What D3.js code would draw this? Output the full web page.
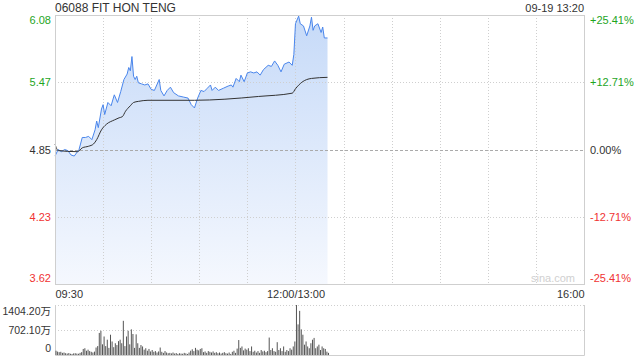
<!DOCTYPE html>
<html>
<head>
<meta charset="utf-8">
<script src="https://cdn.jsdelivr.net/npm/d3@7"></script>
<style>
  body { margin: 0; background: #fff; }
  text { font-family: "Liberation Sans", Arial, "Noto Sans CJK SC", sans-serif; }
</style>
</head>
<body>
<div class="canvas"></div>
<script>
// ---- data ----
const title = '06088 FIT HON TENG';
const stamp = '09-19 13:20';

const priceTicks = [3.62, 4.23, 4.85, 5.47, 6.08];
const pctTicks = ['-25.41%', '-12.71%', '0.00%', '+12.71%', '+25.41%'];
const timeTicks = ['09:30', '12:00/13:00', '16:00'];
const volTicks = [0, 702.10, 1404.20];

const priceTimes = ['09:30','09:32','09:34','09:36','09:38','09:40','09:42','09:45','09:47','09:49',
  '09:51','09:53','09:55','09:56','09:57','09:59','10:00','10:01','10:03','10:05',
  '10:07','10:09','10:11','10:13','10:15','10:16','10:17','10:18','10:19','10:20',
  '10:21','10:22','10:24','10:26','10:28','10:30','10:32','10:35','10:36','10:38',
  '10:40','10:42','10:44','10:47','10:50','10:53','10:55','10:57','10:59','11:01',
  '11:03','11:05','11:07','11:08','11:10','11:12','11:15','11:18','11:20','11:21',
  '11:23','11:25','11:26','11:28','11:30','11:32','11:34','11:36','11:38','11:40',
  '11:43','11:45','11:47','11:49','11:51','11:53','11:56','11:58','11:59','13:00',
  '13:02','13:03','13:05','13:07','13:09','13:10','13:11','13:12','13:14','13:16',
  '13:17','13:18','13:20'];
const priceValues = [4.79,4.85,4.83,4.85,4.84,4.80,4.79,4.85,4.96,4.96,
  4.97,4.94,5.03,5.11,5.05,5.22,5.26,5.17,5.28,5.25,
  5.35,5.28,5.38,5.49,5.54,5.60,5.57,5.70,5.52,5.49,
  5.52,5.46,5.45,5.44,5.45,5.40,5.39,5.49,5.39,5.34,
  5.39,5.42,5.37,5.34,5.33,5.32,5.26,5.23,5.32,5.39,
  5.38,5.41,5.44,5.39,5.42,5.39,5.41,5.43,5.44,5.42,
  5.50,5.47,5.53,5.47,5.55,5.56,5.55,5.56,5.53,5.58,
  5.62,5.61,5.66,5.62,5.56,5.63,5.65,5.62,5.72,6.00,
  6.07,6.00,5.98,5.89,5.98,6.06,5.94,5.98,6.00,5.92,
  5.97,5.87,5.87];

const avgTimes = ['09:30','09:32','09:44','09:47','09:51','09:54','09:56','09:59','10:02','10:07',
  '10:10','10:12','10:14','10:17','10:19','10:22','10:28','10:57','11:16','11:37',
  '11:58','13:00','13:04','13:10','13:20'];
const avgValues = [4.90,4.84,4.83,4.865,4.88,4.90,4.94,5.03,5.08,5.12,
  5.14,5.15,5.20,5.25,5.28,5.29,5.30,5.30,5.31,5.335,
  5.365,5.405,5.465,5.50,5.51];

// volume in 万, one bar per minute starting 09:30
const volumes = [120,95,80,90,60,70,50,40,55,35,
  30,45,50,40,35,60,80,170,190,120,
  150,110,90,70,95,210,250,620,680,300,
  520,250,430,200,570,380,220,330,280,390,
  430,330,960,250,520,680,300,720,590,200,
  580,330,200,280,240,150,190,120,170,100,
  140,90,110,70,100,210,90,60,110,70,
  50,60,45,70,40,55,30,50,40,35,
  60,45,30,70,120,160,110,200,150,130,
  170,190,80,100,60,110,90,70,100,60,
  80,50,70,40,60,80,50,40,70,30,
  90,120,60,180,420,200,240,130,180,150,
  190,110,240,90,120,70,110,60,140,100,
  120,80,110,490,140,190,110,90,360,140,
  190,110,240,90,140,110,190,150,240,380,
  1404.20,860,1240,720,570,290,380,240,190,330,
  430,480,190,240,290,140,240,190,170,95,60];

// ---- layout ----
const plotLeft = 55, plotRight = 584;
const plotTop = 15, plotBottom = 284;
const volTop = 305, volBottom = 355;

const green = '#1ea51e', red = '#f03333', dark = '#333';

const toMin = s => {
  const [h, m] = s.split(':').map(Number);
  const v = h * 60 + m;
  return v >= 780 ? v - 780 + 150 : v - 570;
};

const svg = d3.select('.canvas').append('svg')
  .attr('width', 640)
  .attr('height', 360);

const x = d3.scaleLinear().domain([0, 330]).range([plotLeft, plotRight]);
const y = d3.scaleLinear().domain([3.62, 6.08]).range([plotBottom, plotTop]);
const yv = d3.scaleLinear().domain([0, 1404.20]).range([volBottom, volTop]);

// gradient for area
const grad = svg.append('defs').append('linearGradient')
  .attr('id', 'fillGrad')
  .attr('x1', 0).attr('y1', 0).attr('x2', 0).attr('y2', 1);
grad.append('stop').attr('offset', '0%').attr('stop-color', '#c6daf8');
grad.append('stop').attr('offset', '100%').attr('stop-color', '#f5f8fe');

const pricePts = priceTimes.map((t, i) => ({ t: toMin(t), v: priceValues[i] }));
const avgPts = avgTimes.map((t, i) => ({ t: toMin(t), v: avgValues[i] }));

// area first, grid on top of it
svg.append('path')
  .datum(pricePts)
  .attr('fill', 'url(#fillGrad)')
  .attr('d', d3.area().x(d => x(d.t)).y0(plotBottom).y1(d => y(d.v)));

// vertical grid
svg.append('g').selectAll('line')
  .data(d3.range(30, 330, 30))
  .join('line')
    .attr('x1', d => Math.round(x(d)) + 0.5).attr('x2', d => Math.round(x(d)) + 0.5)
    .attr('y1', plotTop).attr('y2', plotBottom)
    .attr('stroke', '#cfcfcf')
    .attr('stroke-dasharray', '1,2');

// horizontal grid
svg.append('g').selectAll('line')
  .data(priceTicks.slice(1, -1))
  .join('line')
    .attr('x1', plotLeft).attr('x2', plotRight)
    .attr('y1', d => Math.round(y(d)) + 0.5).attr('y2', d => Math.round(y(d)) + 0.5)
    .attr('stroke', d => d === 4.85 ? '#aaa' : '#cfcfcf')
    .attr('stroke-dasharray', d => d === 4.85 ? '3,2' : '1,2');

svg.append('path')
  .datum(pricePts)
  .attr('fill', 'none')
  .attr('stroke', '#4a86ec')
  .attr('stroke-width', 1)
  .attr('d', d3.line().x(d => x(d.t)).y(d => y(d.v)));

svg.append('path')
  .datum(avgPts)
  .attr('fill', 'none')
  .attr('stroke', '#333')
  .attr('stroke-width', 1)
  .attr('d', d3.line().curve(d3.curveMonotoneX).x(d => x(d.t)).y(d => y(d.v)));

// frame
svg.append('rect')
  .attr('x', plotLeft + 0.5).attr('y', plotTop + 0.5)
  .attr('width', plotRight - plotLeft).attr('height', plotBottom - plotTop)
  .attr('fill', 'none')
  .attr('stroke', '#cfcfcf');

// watermark
svg.append('text')
  .attr('x', plotRight - 9).attr('y', plotBottom - 2)
  .attr('text-anchor', 'end')
  .attr('font-size', 11)
  .attr('fill', '#d0d0d0')
  .text('sina.com');

// left axis
const yAxisGroup = svg.append('g')
  .attr('transform', `translate(${plotLeft - 1},0)`)
  .call(d3.axisLeft(y).tickValues(priceTicks).tickSize(0).tickFormat(d3.format('.2f')));
yAxisGroup.select('.domain').remove();
yAxisGroup.selectAll('text')
  .attr('font-size', 11)
  .attr('fill', d => d > 4.85 ? green : d < 4.85 ? red : dark)
  .attr('dy', (d, i) => i === 0 ? '-0.2em' : i === priceTicks.length - 1 ? '0.75em' : '0.32em');

// right axis
const yAxisRight = svg.append('g')
  .attr('transform', `translate(${plotRight + 3},0)`)
  .call(d3.axisRight(y).tickValues(priceTicks).tickSize(0).tickFormat((d, i) => pctTicks[i]));
yAxisRight.select('.domain').remove();
yAxisRight.selectAll('text')
  .attr('font-size', 11)
  .attr('fill', d => d > 4.85 ? green : d < 4.85 ? red : dark)
  .attr('dy', (d, i) => i === 0 ? '-0.2em' : i === priceTicks.length - 1 ? '0.75em' : '0.32em');

// time axis
const xAxisGroup = svg.append('g')
  .attr('transform', `translate(0,${plotBottom})`)
  .call(d3.axisBottom(x).tickValues([0, 150, 330]).tickSize(0).tickFormat((d, i) => timeTicks[i]));
xAxisGroup.select('.domain').remove();
xAxisGroup.selectAll('text')
  .attr('font-size', 11)
  .attr('fill', dark)
  .attr('y', 6)
  .attr('text-anchor', (d, i) => i === 0 ? 'start' : i === 2 ? 'end' : 'middle');

// volume panel
svg.append('g').selectAll('line')
  .data(volTicks.slice(1))
  .join('line')
    .attr('x1', plotLeft).attr('x2', plotRight)
    .attr('y1', d => Math.round(yv(d)) + 0.5).attr('y2', d => Math.round(yv(d)) + 0.5)
    .attr('stroke', '#cfcfcf')
    .attr('stroke-dasharray', '1,2');

svg.append('path')
  .attr('d', `M${plotLeft + 0.5},${volTop}V${volBottom + 0.5}H${plotRight + 0.5}V${volTop}`)
  .attr('fill', 'none')
  .attr('stroke', '#cfcfcf');

svg.append('g').selectAll('rect')
  .data(volumes)
  .join('rect')
    .attr('x', (d, i) => x(i) + 0.5)
    .attr('width', 1)
    .attr('y', d => yv(d))
    .attr('height', d => volBottom - yv(d))
    .attr('fill', '#555');

const volAxis = svg.append('g')
  .attr('transform', `translate(${plotLeft - 1},0)`)
  .call(d3.axisLeft(yv).tickValues(volTicks).tickSize(0)
    .tickFormat(d => d === 0 ? '0' : d3.format('.2f')(d) + '万'));
volAxis.select('.domain').remove();
volAxis.selectAll('text')
  .attr('font-size', 10.5)
  .attr('fill', dark)
  .attr('dy', (d, i) => i === 0 ? '-0.35em' : i === volTicks.length - 1 ? '0.9em' : '0.32em');

// header
svg.append('text')
  .attr('x', plotLeft).attr('y', 12)
  .attr('font-size', 12)
  .attr('fill', dark)
  .text(title);

svg.append('text')
  .attr('x', plotRight).attr('y', 12)
  .attr('text-anchor', 'end')
  .attr('font-size', 11)
  .attr('fill', dark)
  .text(stamp);
</script>
</body>
</html>
